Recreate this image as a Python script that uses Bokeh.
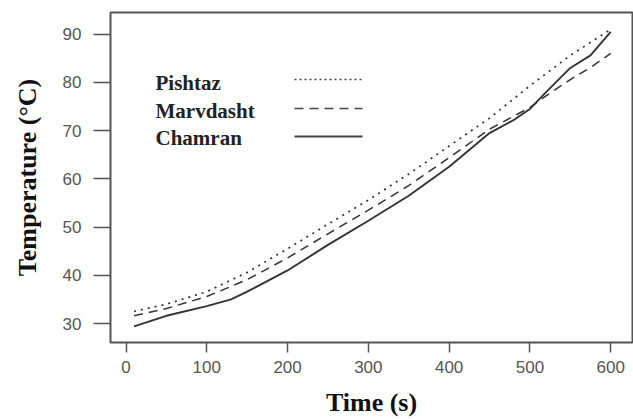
from bokeh.plotting import figure
from bokeh.models import FixedTicker, Range1d, Label, Arrow
from bokeh.embed import file_html
from bokeh.resources import INLINE

# Data
time_p = [10, 50, 100, 150, 200, 250, 300, 350, 400, 450, 500, 550, 600]
pishtaz = [32.5, 34.0, 36.6, 40.6, 45.5, 50.6, 55.6, 61.0, 66.8, 72.6, 79.3, 85.6, 91.0]

time_m = [10, 50, 100, 150, 200, 250, 300, 350, 400, 450, 480, 500, 520, 550, 575, 600]
marvdasht = [31.6, 33.1, 35.6, 39.1, 43.6, 48.6, 53.5, 58.6, 64.4, 70.3, 73.0, 74.8, 77.2, 80.6, 83.1, 86.0]

time_c = [10, 50, 100, 130, 150, 200, 250, 300, 350, 400, 450, 480, 500, 520, 550, 575, 600]
chamran = [29.4, 31.6, 33.6, 35.0, 36.6, 41.0, 46.3, 51.3, 56.5, 62.5, 69.5, 72.2, 74.5, 78.0, 83.0, 85.6, 90.5]

x_ticks = [0, 100, 200, 300, 400, 500, 600]
y_ticks = [30, 40, 50, 60, 70, 80, 90]
series_names = ["Pishtaz", "Marvdasht", "Chamran"]

p = figure(width=633, height=419, output_backend="svg", toolbar_location=None,
           x_range=Range1d(-19.2, 627), y_range=Range1d(26.06, 94.5),
           min_border_left=110, min_border_right=1, min_border_top=12, min_border_bottom=77)

p.background_fill_color = "white"
p.border_fill_color = "white"
p.grid.visible = False
p.outline_line_color = "#555555"
p.outline_line_width = 2

line_col = "#333333"
p.line(time_p, pishtaz, line_color=line_col, line_width=1.7, line_dash="2 5")
p.line(time_m, marvdasht, line_color=line_col, line_width=1.5, line_dash="9 6")
p.line(time_c, chamran, line_color=line_col, line_width=1.9)

for ax in (p.xaxis[0], p.yaxis[0]):
    ax.axis_line_color = None
    ax.minor_tick_line_color = None
    ax.major_tick_in = 0
    ax.major_tick_line_color = "#555555"
    ax.major_tick_line_width = 1.5
    ax.major_label_text_font = "Liberation Sans"
    ax.major_label_text_font_size = "17px"
    ax.major_label_text_color = "#555555"
    ax.axis_label_text_font = "Liberation Serif"
    ax.axis_label_text_font_style = "bold"
    ax.axis_label_text_color = "#111111"

p.xaxis.ticker = FixedTicker(ticks=x_ticks)
p.yaxis.ticker = FixedTicker(ticks=y_ticks)
p.xaxis.major_tick_out = 10
p.yaxis.major_tick_out = 17
p.xaxis.major_label_standoff = 8
p.yaxis.major_label_standoff = 12
p.xaxis.axis_label = "Time (s)"
p.yaxis.axis_label = "Temperature (\u00b0C)"
p.xaxis.axis_label_text_font_size = "26px"
p.yaxis.axis_label_text_font_size = "26px"
p.xaxis.axis_label_standoff = 12
p.yaxis.axis_label_standoff = 18

# Manual legend: labels on the left, line samples on the right
label_y = [260, 232, 205]
dash_styles = ["2 3", "9 6", "solid"]
sample_y = [263, 234, 206]
for name, ly, dash, sy in zip(series_names, label_y, dash_styles, sample_y):
    p.add_layout(Label(x=45, y=ly, x_units="screen", y_units="screen", text=name,
                       text_font="Liberation Serif", text_font_style="bold",
                       text_font_size="21px", text_color="#222222",
                       text_baseline="alphabetic"))
    p.add_layout(Arrow(end=None, x_start=184, y_start=sy, x_end=252, y_end=sy,
                       start_units="screen", end_units="screen",
                       line_color="#444444", line_width=2 if dash == "solid" else 1.6,
                       line_dash=dash))

open("out.html", "w").write(file_html(p, INLINE))
